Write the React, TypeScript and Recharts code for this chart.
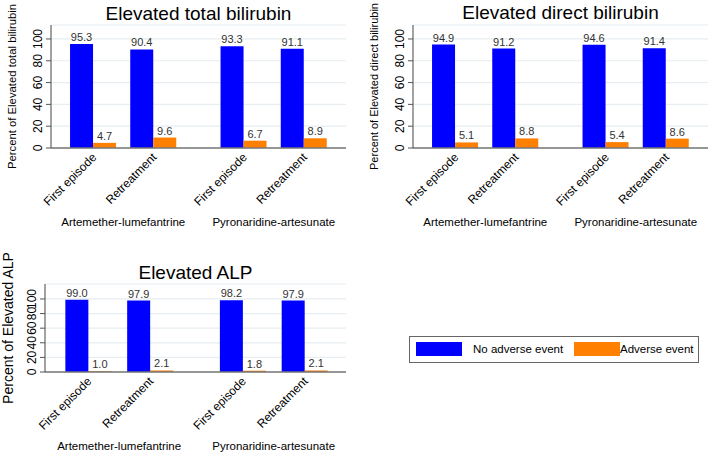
import { Bar, BarChart, CartesianGrid, LabelList, XAxis, YAxis } from "recharts";

const FONT = '"Liberation Sans", Arial, sans-serif';
const BLUE = "#0000ff";
const ORANGE = "#ff7f00";
const GRID = "#e6eef1";

// groups on the category axis
const drugs = ["Artemether-lumefantrine", "Pyronaridine-artesunate"];
const episodes = ["First episode", "Retreatment"];
const seriesNames = ["No adverse event", "Adverse event"];

// percent values, order: AL first, AL retreat, PA first, PA retreat
const totalBiliNoAE = [95.3, 90.4, 93.3, 91.1];
const totalBiliAE = [4.7, 9.6, 6.7, 8.9];
const directBiliNoAE = [94.9, 91.2, 94.6, 91.4];
const directBiliAE = [5.1, 8.8, 5.4, 8.6];
const alpNoAE = [99.0, 97.9, 98.2, 97.9];
const alpAE = [1.0, 2.1, 1.8, 2.1];

const yTicks = [0, 20, 40, 60, 80, 100];

// gap between drug groups, in category units
const GROUP_STEP = 2.5;

type Row = { pos: number; drug: string; episode: string; noAE: number; ae: number };

function buildRows(noAE: number[], ae: number[]): Row[] {
  const rows: Row[] = [];
  drugs.forEach((drug, d) => {
    episodes.forEach((episode, e) => {
      const i = d * episodes.length + e;
      rows.push({ pos: d * GROUP_STEP + e, drug, episode, noAE: noAE[i], ae: ae[i] });
    });
  });
  return rows;
}

const groupCenters = drugs.map((_, d) => d * GROUP_STEP + (episodes.length - 1) / 2);

type PanelProps = {
  title: string;
  yLabel: string;
  noAE: number[];
  ae: number[];
  left: number;
  top: number;
  width: number;
  height: number;
  plotLeft: number;
  plotTop: number;
  plotBottom: number;
  marginRight: number;
  yMax: number;
  xDomain: [number, number];
  yLabelSize: number;
  yLabelOffset: number;
  titleTop: number;
};

function Panel(p: PanelProps) {
  const rows = buildRows(p.noAE, p.ae);
  const tickAxisH = 62;
  const drugAxisH = p.height - p.plotBottom - tickAxisH;

  const episodeTick = (props: any) => {
    const { x, y, payload } = props;
    const row = rows.find((r) => r.pos === payload.value);
    const tx = x + 4;
    const ty = y + 10;
    return (
      <text
        x={tx}
        y={ty}
        transform={`rotate(-45, ${tx}, ${ty})`}
        textAnchor="end"
        fontSize={12}
        fontFamily={FONT}
        fill="#000"
      >
        {row ? row.episode : ""}
      </text>
    );
  };

  const drugTick = (props: any) => {
    const { x, y, payload } = props;
    const idx = groupCenters.indexOf(payload.value);
    return (
      <text x={x} y={y + 16} textAnchor="middle" fontSize={11.5} fontFamily={FONT} fill="#000">
        {drugs[idx]}
      </text>
    );
  };

  const yTick = (props: any) => {
    const { x, y, payload } = props;
    const cx = x - 6;
    return (
      <text
        x={cx}
        y={y}
        dy="0.36em"
        transform={`rotate(-90, ${cx}, ${y})`}
        textAnchor="middle"
        fontSize={12}
        fontFamily={FONT}
        fill="#000"
      >
        {payload.value}
      </text>
    );
  };

  const fmt = (v: any) => Number(v).toFixed(1);

  return (
    <div style={{ position: "absolute", left: p.left, top: p.top, width: p.width, height: p.height }}>
      <div
        style={{
          position: "absolute",
          left: p.plotLeft,
          width: p.width - p.plotLeft - p.marginRight,
          top: p.titleTop,
          textAlign: "center",
          fontSize: 19,
          lineHeight: "19px",
          fontFamily: FONT,
          color: "#000",
          whiteSpace: "nowrap",
        }}
      >
        {p.title}
      </div>
      <BarChart
        width={p.width}
        height={p.height}
        data={rows}
        barGap={0}
        margin={{ top: p.plotTop, right: p.marginRight, left: 0, bottom: 0 }}
      >
        <CartesianGrid vertical={false} stroke={GRID} strokeWidth={1.2} />
        <XAxis
          dataKey="pos"
          type="number"
          domain={p.xDomain}
          ticks={rows.map((r) => r.pos)}
          interval={0}
          height={tickAxisH}
          tickSize={0}
          tickMargin={0}
          tickLine={false}
          axisLine={{ stroke: "#767676", strokeWidth: 1.5 }}
          tick={episodeTick}
        />
        <XAxis
          xAxisId="drug"
          dataKey="pos"
          type="number"
          domain={p.xDomain}
          ticks={groupCenters}
          interval={0}
          height={drugAxisH}
          tickSize={0}
          tickMargin={0}
          tickLine={false}
          axisLine={false}
          tick={drugTick}
        />
        <YAxis
          type="number"
          domain={[0, p.yMax]}
          ticks={yTicks}
          interval={0}
          width={p.plotLeft}
          tickSize={5}
          tickMargin={2}
          tickLine={{ stroke: "#555" }}
          axisLine={{ stroke: "#444" }}
          tick={yTick}
          label={{
            value: p.yLabel,
            angle: -90,
            position: "insideLeft",
            offset: p.yLabelOffset,
            style: { textAnchor: "middle" },
            fontSize: p.yLabelSize,
            fontFamily: FONT,
            fill: "#000",
          }}
        />
        <Bar dataKey="noAE" name={seriesNames[0]} fill={BLUE} barSize={23} isAnimationActive={false}>
          <LabelList dataKey="noAE" position="top" offset={3} formatter={fmt} fontSize={11} fontFamily={FONT} fill="#333" />
        </Bar>
        <Bar dataKey="ae" name={seriesNames[1]} fill={ORANGE} barSize={23} isAnimationActive={false}>
          <LabelList dataKey="ae" position="top" offset={3} formatter={fmt} fontSize={11} fontFamily={FONT} fill="#333" />
        </Bar>
      </BarChart>
    </div>
  );
}

function LegendBox() {
  const colors = [BLUE, ORANGE];
  const itemLeft = [6, 164];
  const textGap = [11, 0];
  return (
    <div
      style={{
        position: "absolute",
        left: 409,
        top: 336,
        width: 290,
        height: 27,
        border: "1px solid #666",
        boxSizing: "border-box",
        fontFamily: FONT,
        fontSize: 11.5,
        color: "#000",
      }}
    >
      {seriesNames.map((name, i) => (
        <div
          key={name}
          style={{ position: "absolute", left: itemLeft[i], top: 5, display: "flex", alignItems: "center", height: 14 }}
        >
          <div style={{ width: 46, height: 14, background: colors[i] }} />
          <span style={{ marginLeft: textGap[i], whiteSpace: "nowrap" }}>{name}</span>
        </div>
      ))}
    </div>
  );
}

export default function App() {
  return (
    <div style={{ position: "absolute", left: 0, top: 0, width: 708, height: 454, background: "#fff", overflow: "hidden" }}>
      <Panel
        title="Elevated total bilirubin"
        yLabel="Percent of Elevated total bilirubin"
        noAE={totalBiliNoAE}
        ae={totalBiliAE}
        left={0}
        top={0}
        width={354}
        height={230}
        plotLeft={51}
        plotTop={25}
        plotBottom={148}
        marginRight={8}
        yMax={112.8}
        xDomain={[-0.7, 4.2]}
        yLabelSize={11.3}
        yLabelOffset={12}
        titleTop={4}
      />
      <Panel
        title="Elevated direct bilirubin"
        yLabel="Percent of Elevated direct bilirubin"
        noAE={directBiliNoAE}
        ae={directBiliAE}
        left={362}
        top={0}
        width={346}
        height={230}
        plotLeft={51}
        plotTop={25}
        plotBottom={148}
        marginRight={0}
        yMax={112.8}
        xDomain={[-0.7, 4.2]}
        yLabelSize={11}
        yLabelOffset={12}
        titleTop={3}
      />
      <Panel
        title="Elevated ALP"
        yLabel="Percent of Elevated ALP"
        noAE={alpNoAE}
        ae={alpAE}
        left={0}
        top={230}
        width={354}
        height={224}
        plotLeft={45}
        plotTop={54}
        plotBottom={142}
        marginRight={8}
        yMax={120.5}
        xDomain={[-0.7, 4.17]}
        yLabelSize={14}
        yLabelOffset={8}
        titleTop={33}
      />
      <LegendBox />
    </div>
  );
}
